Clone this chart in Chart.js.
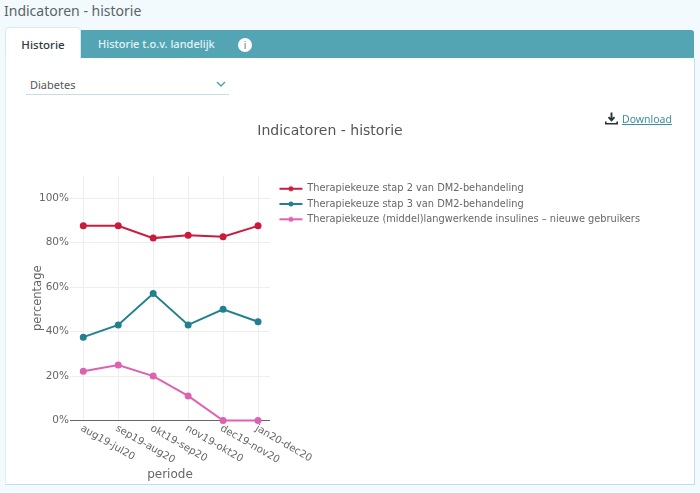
<!DOCTYPE html>
<html>
<head>
<meta charset="utf-8">
<title>Indicatoren - historie</title>
<script src="https://cdn.jsdelivr.net/npm/chart.js@4/dist/chart.umd.min.js"></script>
<style>
body { margin: 0; width: 700px; height: 493px; background: #f3fafd; overflow: hidden; position: relative; font-family: "Noto Sans", sans-serif; }
#heading { position: absolute; left: 4px; top: 1px; font-size: 14px; color: #5a6468; }
#tabbar { position: absolute; left: 5px; top: 30px; width: 689px; height: 28px; background: #53a5b3; border-radius: 3px 3px 0 0; }
#panel { position: absolute; left: 5px; top: 58px; width: 688px; height: 426px; background: #fff; border: 1px solid #bfe0e6; border-top: 0; border-left-color: #e3eff2; }
#tab1 { position: absolute; left: 5px; top: 27px; width: 76px; height: 32px; background: #fff; border-radius: 4px 4px 0 0; border: 1px solid #d8ecef; border-bottom: 0; box-sizing: border-box; text-align: center; line-height: 34px; font-size: 11.5px; font-weight: 500; color: #2c3a40; }
#tab2 { position: absolute; left: 98px; top: 36px; font-size: 11px; color: #e3f3f6; font-weight: 500; }
#info { position: absolute; left: 238px; top: 38px; width: 14px; height: 14px; border-radius: 50%; background: #fff; color: #6d7a80; font-size: 10px; line-height: 14px; text-align: center; }
#select { position: absolute; left: 26px; top: 76px; width: 199px; height: 18px; padding-left: 4px; border-bottom: 1px solid #c7dfe4; font-size: 11px; line-height: 17px; color: #555; }
#chevron { position: absolute; left: 216px; top: 80px; }
#download { position: absolute; left: 605px; top: 112px; font-size: 10.5px; color: #3a8ea0; text-decoration: underline; z-index: 2; }
#download svg { vertical-align: -2px; margin-right: 4px; }
#chartbox { position: absolute; left: 10px; top: 118px; width: 640px; height: 364px; }
</style>
</head>
<body>
<div id="heading">Indicatoren - historie</div>
<div id="tabbar"></div>
<div id="panel"></div>
<div id="tab1">Historie</div>
<div id="tab2">Historie t.o.v. landelijk</div>
<div id="info">i</div>
<div id="select">Diabetes</div>
<svg id="chevron" width="10" height="8" viewBox="0 0 10 8"><path d="M1 2 L5 6 L9 2" fill="none" stroke="#4d9fb0" stroke-width="1.4"/></svg>
<div id="download"><svg width="13" height="13" viewBox="0 0 13 13"><path d="M6.5 0.5 V8 M3.5 5.2 L6.5 8.4 L9.5 5.2" fill="none" stroke="#2c3338" stroke-width="1.9"/><path d="M0.8 9.5 V11.7 H12.2 V9.5" fill="none" stroke="#2c3338" stroke-width="1.6"/></svg>Download</div>
<div id="chartbox"><canvas id="grafico"></canvas></div>
<script>
const periodes = ["aug19-jul20", "sep19-aug20", "okt19-sep20", "nov19-okt20", "dec19-nov20", "jan20-dec20"];
const stap2 = [87.5, 87.5, 82, 83.3, 82.6, 87.5];
const stap3 = [37.5, 43, 57.1, 43, 50, 44.4];
const insulines = [22.2, 25, 20, 11.1, 0, 0];

const naamStap2 = "Therapiekeuze stap 2 van DM2-behandeling";
const naamStap3 = "Therapiekeuze stap 3 van DM2-behandeling";
const naamInsulines = "Therapiekeuze (middel)langwerkende insulines \u2013 nieuwe gebruikers";

const kleurStap2 = "#c91c3c";
const kleurStap3 = "#22808f";
const kleurInsulines = "#dd62b1";
const tekstKleur = "#666666";
const lettertype = "'DejaVu Sans', sans-serif";

function maakReeks(naam, waarden, kleur) {
    return {
        label: naam,
        data: waarden.map((v, i) => ({ x: i, y: v })),
        borderColor: kleur,
        backgroundColor: kleur,
        borderWidth: 2,
        pointRadius: 2.5,
        pointHoverRadius: 2.5,
        tension: 0,
        clip: false
    };
}

// legend symbol: short line with a dot in the middle
function legendaSymbool(kleur) {
    const c = document.createElement('canvas');
    c.width = 30;
    c.height = 8;
    const ctx = c.getContext('2d');
    ctx.strokeStyle = kleur;
    ctx.fillStyle = kleur;
    ctx.lineWidth = 2;
    ctx.beginPath();
    ctx.moveTo(5.5, 4);
    ctx.lineTo(28.5, 4);
    ctx.stroke();
    ctx.beginPath();
    ctx.arc(17, 4, 2.5, 0, Math.PI * 2);
    ctx.fill();
    return c;
}

// Chart.js right-aligns rotated ticks, these labels hang down to the right of the tick
const schuineLabels = {
    id: 'schuineLabels',
    afterLayout(chart) {
        // legend sits a little below the top of the plot
        chart.legend.top += 2.5;
    },
    afterDraw(chart) {
        const schaal = chart.scales.x;
        const ctx = chart.ctx;
        ctx.save();
        ctx.font = "10.2px " + lettertype;
        ctx.fillStyle = tekstKleur;
        ctx.textAlign = 'left';
        ctx.textBaseline = 'middle';
        periodes.forEach((p, i) => {
            ctx.save();
            ctx.translate(schaal.getPixelForValue(i) - 2, chart.chartArea.bottom + 7);
            ctx.rotate(30 * Math.PI / 180);
            ctx.fillText(p, 0, 0);
            ctx.restore();
        });
        ctx.restore();
    }
};

new Chart(document.getElementById('grafico'), {
    type: 'line',
    data: {
        datasets: [
            maakReeks(naamStap2, stap2, kleurStap2),
            maakReeks(naamStap3, stap3, kleurStap3),
            maakReeks(naamInsulines, insulines, kleurInsulines)
        ]
    },
    plugins: [schuineLabels],
    options: {
        responsive: true,
        maintainAspectRatio: false,
        animation: false,
        layout: { padding: { left: 0, right: 0, top: 5, bottom: 0 } },
        plugins: {
            title: {
                display: true,
                text: "Indicatoren - historie",
                color: "#555555",
                font: { family: lettertype, size: 14, weight: 'normal' },
                padding: { top: 0, bottom: 36 }
            },
            legend: {
                position: 'right',
                align: 'start',
                fullSize: false,
                maxWidth: 400,
                labels: {
                    color: tekstKleur,
                    font: { family: lettertype, size: 9.8 },
                    usePointStyle: true,
                    pointStyleWidth: 27,
                    padding: 5.5,
                    generateLabels(chart) {
                        const items = Chart.defaults.plugins.legend.labels.generateLabels(chart);
                        items.forEach((it, i) => {
                            it.pointStyle = legendaSymbool(chart.data.datasets[i].borderColor);
                        });
                        return items;
                    }
                }
            }
        },
        scales: {
            x: {
                type: 'linear',
                min: -0.38,
                max: 5.34,
                afterBuildTicks(schaal) {
                    schaal.ticks = periodes.map((p, i) => ({ value: i }));
                },
                ticks: { display: false },
                grid: { color: "#eeeeee", drawTicks: false },
                border: { color: "#666666", width: 1 },
                title: {
                    display: true,
                    text: "periode",
                    color: tekstKleur,
                    font: { family: lettertype, size: 12 },
                    padding: { top: 47, bottom: 0 }
                }
            },
            y: {
                min: 0,
                max: 110,
                afterFit(schaal) {
                    schaal.width = 60;
                },
                ticks: {
                    stepSize: 20,
                    includeBounds: false,
                    color: tekstKleur,
                    font: { family: lettertype, size: 10.5 },
                    padding: 1,
                    callback: v => v + "%"
                },
                grid: { color: "#eeeeee", drawTicks: false },
                border: { display: false },
                title: {
                    display: true,
                    text: "percentage",
                    color: tekstKleur,
                    font: { family: lettertype, size: 11.5 },
                    padding: { top: 21, bottom: 0 }
                }
            }
        }
    }
});
</script>
</body>
</html>
